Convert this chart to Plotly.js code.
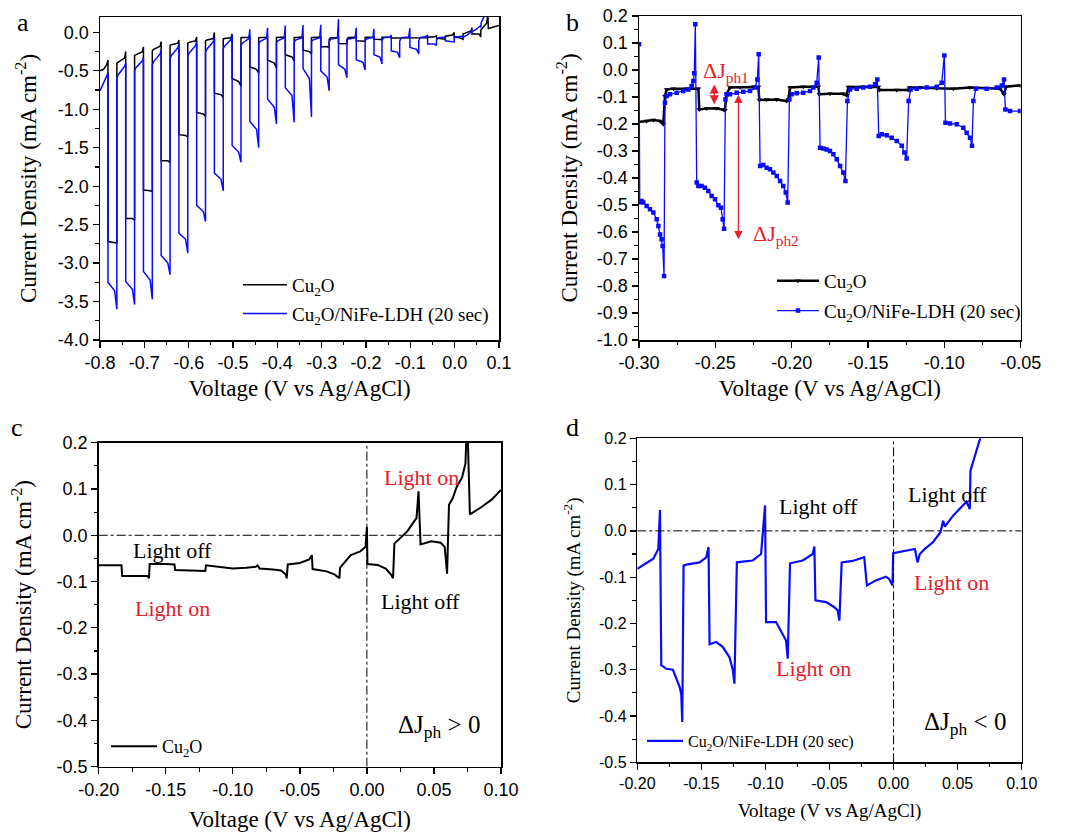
<!DOCTYPE html>
<html><head><meta charset="utf-8">
<script src="https://cdn.plot.ly/plotly-3.0.1.min.js"></script>
<style>html,body{margin:0;padding:0;background:#fff}#chart{width:1067px;height:832px}</style>
</head><body><div id="chart"></div>
<script>
// ================= DATA =================
// ---- Panel a: chopped LSV, light-on / light-off switching voltages ----
const aLightOn  = [-0.782,-0.742,-0.702,-0.662,-0.622,-0.582,-0.542,-0.502,-0.462,-0.422,-0.382,-0.342,-0.302,-0.262,-0.222,-0.182,-0.143,-0.101,-0.061];
const aLightOff = [-0.762,-0.722,-0.682,-0.642,-0.602,-0.562,-0.522,-0.482,-0.442,-0.402,-0.362,-0.323,-0.283,-0.243,-0.202,-0.164,-0.124,-0.081,-0.041];

// Cu2O (panel a): current during light-on (start, middle, end) and following dark period (start, early, late, spike)
const aCuStartV = [-0.800,-0.792,-0.785,-0.782];
const aCuStartJ = [-0.50,-0.48,-0.42,-0.36];
const aCuOnS = [-2.72,-2.42,-2.05,-1.67,-1.33,-1.04,-0.79,-0.60,-0.45,-0.36,-0.29,-0.23,-0.19,-0.146,-0.110,-0.088,-0.074,-0.069,-0.062];
const aCuOnM = [-2.73,-2.42,-2.06,-1.67,-1.34,-1.06,-0.81,-0.64,-0.48,-0.40,-0.32,-0.25,-0.185,-0.142,-0.109,-0.088,-0.074,-0.069,-0.058];
const aCuOnE = [-2.74,-2.44,-2.07,-1.69,-1.36,-1.09,-0.85,-0.70,-0.53,-0.46,-0.37,-0.28,-0.20,-0.149,-0.115,-0.094,-0.074,-0.066,-0.045];
const aCuDkS = [-0.40,-0.30,-0.24,-0.17,-0.14,-0.11,-0.085,-0.070,-0.068,-0.066,-0.066,-0.068,-0.090,-0.088,-0.065,-0.063,-0.065,-0.068];
const aCuDkM = [-0.39,-0.29,-0.22,-0.16,-0.13,-0.10,-0.080,-0.068,-0.066,-0.065,-0.065,-0.066,-0.070,-0.065,-0.062,-0.062,-0.065,-0.068];
const aCuDkP = [-0.33,-0.25,-0.18,-0.14,-0.11,-0.08,-0.070,-0.066,-0.064,-0.064,-0.064,-0.064,-0.069,-0.062,-0.062,-0.062,-0.068,-0.069];
const aCuDkE = [-0.25,-0.19,-0.12,-0.10,-0.06,0.00,-0.020,-0.040,-0.050,-0.060,-0.060,-0.062,-0.069,-0.063,-0.062,-0.063,-0.068,-0.069];
const aCuTailV = [-0.041,-0.025,-0.021,-0.021,-0.005,-0.001,-0.001,0.012,0.019,0.019,0.030,0.037,0.039,0.039,0.055,0.059,0.059,0.067,0.072,0.074,0.075,0.076,0.090,0.100];
const aCuTailJ = [-0.075,-0.085,-0.095,-0.050,-0.035,0.000,-0.065,-0.070,-0.090,-0.020,0.000,0.020,0.060,-0.020,-0.020,-0.060,0.030,0.080,0.120,0.200,0.210,0.050,0.070,0.090];

// Cu2O/NiFe-LDH (panel a)
const aLdhStartV = [-0.800,-0.792,-0.786,-0.782];
const aLdhStartJ = [-0.76,-0.66,-0.58,-0.53];
const aLdhOnS = [-3.25,-3.24,-3.11,-2.90,-2.61,-2.25,-1.83,-1.47,-1.16,-0.87,-0.72,-0.47,-0.50,-0.42,-0.355,-0.29,-0.24,-0.195,-0.150];
const aLdhOnM = [-3.36,-3.34,-3.22,-3.00,-2.69,-2.33,-1.91,-1.56,-1.26,-0.97,-0.82,-0.60,-0.58,-0.48,-0.39,-0.32,-0.26,-0.220,-0.152];
const aLdhOnE = [-3.60,-3.54,-3.47,-3.15,-2.87,-2.46,-2.06,-1.69,-1.50,-1.19,-1.17,-1.10,-0.76,-0.59,-0.49,-0.41,-0.33,-0.280,-0.170];
const aLdhDkS = [-0.60,-0.50,-0.42,-0.34,-0.30,-0.25,-0.21,-0.17,-0.15,-0.14,-0.13,-0.12,-0.12,-0.11,-0.11,-0.115,-0.115,-0.115];
const aLdhDkM = [-0.55,-0.46,-0.38,-0.30,-0.27,-0.22,-0.18,-0.14,-0.12,-0.11,-0.10,-0.10,-0.09,-0.085,-0.085,-0.070,-0.068,-0.068];
const aLdhDkP = [-0.44,-0.37,-0.28,-0.20,-0.17,-0.12,-0.09,-0.08,-0.075,-0.07,-0.07,-0.07,-0.07,-0.07,-0.065,-0.060,-0.060,-0.050];
const aLdhDkE = [-0.40,-0.33,-0.22,-0.15,-0.12,-0.065,-0.03,0.04,0.06,0.09,0.095,0.10,0.17,0.06,0.045,-0.035,0.055,-0.035];
const aLdhTailV = [-0.041,-0.037,-0.025,-0.021,-0.021,-0.005,-0.001,-0.001,0.012,0.018,0.019,0.021,0.028,0.035,0.038,0.040,0.048,0.057,0.059,0.060,0.064,0.067];
const aLdhTailJ = [-0.100,-0.070,-0.065,-0.060,-0.110,-0.115,-0.125,-0.060,-0.055,-0.050,-0.075,-0.055,-0.035,-0.005,0.025,0.010,0.040,0.080,0.065,0.130,0.180,0.210];

// ---- Panel b: zoomed chopped LSV ----
const bCuV = [-0.300,-0.295,-0.2906,-0.2862,-0.2841,-0.2830,-0.2819,-0.2775,-0.2688,-0.2611,-0.2605,-0.2557,-0.2491,-0.2448,-0.2437,-0.2426,-0.2404,-0.2338,-0.2251,-0.2218,-0.2212,-0.2164,-0.2098,-0.2033,-0.2022,-0.2011,-0.1924,-0.1825,-0.1819,-0.1749,-0.1662,-0.1640,-0.1629,-0.1487,-0.1432,-0.1426,-0.1312,-0.1236,-0.1229,-0.1159,-0.1050,-0.0941,-0.0832,-0.0635,-0.0609,-0.0596,-0.0504];
const bCuJ = [-0.193,-0.189,-0.185,-0.189,-0.201,-0.096,-0.072,-0.069,-0.069,-0.069,-0.146,-0.143,-0.142,-0.146,-0.149,-0.088,-0.065,-0.064,-0.062,-0.063,-0.111,-0.109,-0.109,-0.115,-0.109,-0.065,-0.062,-0.062,-0.090,-0.088,-0.088,-0.094,-0.063,-0.062,-0.063,-0.074,-0.074,-0.074,-0.065,-0.065,-0.068,-0.069,-0.065,-0.069,-0.090,-0.062,-0.057];
const bLdhV = [-0.3000,-0.2995,-0.2983,-0.2972,-0.2950,-0.2928,-0.2906,-0.2884,-0.2873,-0.2862,-0.2852,-0.2845,-0.2836,-0.2830,-0.2819,-0.2797,-0.2753,-0.2710,-0.2677,-0.2655,-0.2644,-0.2638,-0.2631,-0.2622,-0.2611,-0.2590,-0.2568,-0.2546,-0.2524,-0.2502,-0.2480,-0.2463,-0.2452,-0.2443,-0.2434,-0.2426,-0.2404,-0.2360,-0.2317,-0.2273,-0.2240,-0.2225,-0.2216,-0.2207,-0.2186,-0.2164,-0.2142,-0.2120,-0.2098,-0.2076,-0.2055,-0.2039,-0.2026,-0.2015,-0.2000,-0.1967,-0.1924,-0.1880,-0.1858,-0.1836,-0.1823,-0.1814,-0.1793,-0.1771,-0.1749,-0.1727,-0.1705,-0.1683,-0.1662,-0.1648,-0.1635,-0.1618,-0.1574,-0.1531,-0.1487,-0.1454,-0.1439,-0.1430,-0.1410,-0.1378,-0.1345,-0.1312,-0.1279,-0.1262,-0.1247,-0.1234,-0.1221,-0.1181,-0.1116,-0.1050,-0.1017,-0.1000,-0.0993,-0.0963,-0.0919,-0.0876,-0.0854,-0.0832,-0.0819,-0.0810,-0.0793,-0.0723,-0.0657,-0.0624,-0.0609,-0.0600,-0.0570,-0.0504];
const bLdhJ = [0.095,-0.490,-0.485,-0.491,-0.504,-0.516,-0.528,-0.553,-0.578,-0.609,-0.627,-0.652,-0.763,-0.121,-0.096,-0.090,-0.084,-0.078,-0.072,-0.059,-0.041,-0.012,0.169,-0.417,-0.430,-0.430,-0.436,-0.448,-0.467,-0.479,-0.501,-0.510,-0.553,-0.588,-0.109,-0.090,-0.090,-0.084,-0.081,-0.078,-0.065,-0.035,0.058,-0.356,-0.352,-0.362,-0.368,-0.380,-0.393,-0.411,-0.430,-0.454,-0.491,-0.109,-0.090,-0.086,-0.084,-0.078,-0.065,-0.047,0.046,-0.288,-0.291,-0.294,-0.300,-0.312,-0.331,-0.356,-0.380,-0.411,-0.115,-0.072,-0.069,-0.065,-0.062,-0.053,-0.035,-0.244,-0.238,-0.242,-0.251,-0.263,-0.281,-0.306,-0.328,-0.115,-0.072,-0.069,-0.065,-0.062,-0.047,0.054,-0.195,-0.198,-0.201,-0.214,-0.232,-0.251,-0.281,-0.115,-0.069,-0.069,-0.065,-0.057,-0.035,-0.146,-0.152,-0.152];

// ---- Panel c: Cu2O ----
const cV = [-0.200,-0.183,-0.1825,-0.170,-0.1635,-0.1625,-0.162,-0.150,-0.1435,-0.143,-0.130,-0.1205,-0.120,-0.110,-0.100,-0.090,-0.083,-0.0815,-0.080,-0.070,-0.064,-0.0605,-0.0598,-0.059,-0.050,-0.043,-0.041,-0.0405,-0.030,-0.024,-0.0205,-0.020,-0.012,-0.005,-0.001,0.000,0.0004,0.008,0.014,0.018,0.0195,0.0205,0.026,0.030,0.034,0.037,0.0385,0.040,0.048,0.055,0.058,0.0598,0.0612,0.064,0.067,0.071,0.0735,0.0742,0.0752,0.0768,0.085,0.093,0.100];
const cJ = [-0.065,-0.065,-0.088,-0.087,-0.088,-0.093,-0.062,-0.062,-0.063,-0.075,-0.077,-0.077,-0.065,-0.068,-0.072,-0.070,-0.068,-0.065,-0.072,-0.074,-0.076,-0.085,-0.093,-0.063,-0.060,-0.052,-0.043,-0.073,-0.078,-0.085,-0.093,-0.070,-0.043,-0.035,-0.025,0.018,-0.062,-0.064,-0.072,-0.085,-0.093,-0.018,-0.004,0.008,0.025,0.037,0.095,-0.020,-0.013,-0.016,-0.025,-0.083,0.066,0.080,0.105,0.125,0.155,0.215,0.215,0.045,0.060,0.077,0.098];

// ---- Panel d: Cu2O/NiFe-LDH ----
const dV = [-0.2000,-0.1875,-0.1836,-0.1823,-0.1813,-0.1774,-0.1722,-0.1696,-0.1670,-0.1657,-0.1649,-0.1639,-0.1618,-0.1514,-0.1462,-0.1444,-0.1436,-0.1384,-0.1332,-0.1281,-0.1255,-0.1242,-0.1223,-0.1099,-0.1034,-0.1003,-0.0995,-0.0917,-0.0865,-0.0839,-0.0826,-0.0808,-0.0709,-0.0631,-0.0618,-0.0610,-0.0527,-0.0462,-0.0436,-0.0423,-0.0405,-0.0320,-0.0229,-0.0208,-0.0138,-0.0060,-0.0034,-0.0008,-0.0003,0.0075,0.0166,0.0187,0.0205,0.0244,0.0309,0.0366,0.0387,0.0400,0.0465,0.0569,0.0595,0.0600,0.0634,0.0675,0.0690];
const dJ = [-0.082,-0.060,-0.039,0.045,-0.290,-0.298,-0.300,-0.320,-0.337,-0.353,-0.413,-0.075,-0.073,-0.068,-0.057,-0.035,-0.245,-0.240,-0.251,-0.273,-0.300,-0.330,-0.068,-0.064,-0.050,0.055,-0.197,-0.197,-0.222,-0.237,-0.276,-0.070,-0.064,-0.050,-0.034,-0.150,-0.154,-0.165,-0.172,-0.194,-0.068,-0.065,-0.057,-0.118,-0.107,-0.099,-0.104,-0.118,-0.048,-0.044,-0.039,-0.068,-0.050,-0.039,-0.024,-0.003,0.022,0.009,0.033,0.063,0.047,0.130,0.159,0.199,0.215];

// ---- Tick labels ----
const aXTicks = ['-0.8','-0.7','-0.6','-0.5','-0.4','-0.3','-0.2','-0.1','0.0','0.1'];
const aYTicks = ['-4.0','-3.5','-3.0','-2.5','-2.0','-1.5','-1.0','-0.5','0.0'];
const bXTicks = ['-0.30','-0.25','-0.20','-0.15','-0.10','-0.05'];
const bYTicks = ['-1.0','-0.9','-0.8','-0.7','-0.6','-0.5','-0.4','-0.3','-0.2','-0.1','0.0','0.1','0.2'];
const cdXTicks = ['-0.20','-0.15','-0.10','-0.05','0.00','0.05','0.10'];
const cdYTicks = ['-0.5','-0.4','-0.3','-0.2','-0.1','0.0','0.1','0.2'];

// ================= BUILD =================
function buildChop(x0, y0, on, off, onS, onM, onE, dS, dM, dP, dE, tx, ty) {
  const xs = x0.slice(), ys = y0.slice();
  for (let i = 0; i < on.length; i++) {
    const w = off[i] - on[i];
    xs.push(on[i]); ys.push(onS[i]);
    xs.push(on[i] + 0.75 * w); ys.push(onM[i]);
    xs.push(off[i]); ys.push(onE[i]);
    if (i < on.length - 1) {
      const d = on[i + 1] - off[i];
      xs.push(off[i]); ys.push(dS[i]);
      xs.push(off[i] + 0.15 * d); ys.push(dM[i]);
      xs.push(on[i + 1] - 0.12 * d); ys.push(dP[i]);
      xs.push(on[i + 1]); ys.push(dE[i]);
    }
  }
  return {x: xs.concat(tx), y: ys.concat(ty)};
}
const aCu = buildChop(aCuStartV, aCuStartJ, aLightOn, aLightOff, aCuOnS, aCuOnM, aCuOnE, aCuDkS, aCuDkM, aCuDkP, aCuDkE, aCuTailV, aCuTailJ);
const aLdh = buildChop(aLdhStartV, aLdhStartJ, aLightOn, aLightOff, aLdhOnS, aLdhOnM, aLdhOnE, aLdhDkS, aLdhDkM, aLdhDkP, aLdhDkE, aLdhTailV, aLdhTailJ);

const BLUE = '#0a0aff', BLACK = '#000000', RED = '#e8202a';
const SERIF = 'Liberation Serif, Times New Roman, serif';
const SANS = 'Liberation Sans, Arial, sans-serif';
const W = 1067, H = 832;
const CU = 'Cu<sub>2</sub>O', LDH = 'Cu<sub>2</sub>O/NiFe-LDH (20 sec)';

const traces = [
  {x: aCu.x, y: aCu.y, xaxis: 'x', yaxis: 'y', mode: 'lines', name: CU, line: {color: BLACK, width: 1.5}, legend: 'legend', legendgroup: 'a1'},
  {x: aLdh.x, y: aLdh.y, xaxis: 'x', yaxis: 'y', mode: 'lines', name: LDH, line: {color: BLUE, width: 1.5}, legend: 'legend', legendgroup: 'a2'},
  {x: bCuV, y: bCuJ, xaxis: 'x2', yaxis: 'y2', mode: 'lines+markers', name: CU, line: {color: BLACK, width: 2.5}, marker: {symbol: 'triangle-down', size: 5, color: BLACK}, legend: 'legend2', legendgroup: 'b1'},
  {x: bLdhV, y: bLdhJ, xaxis: 'x2', yaxis: 'y2', mode: 'lines+markers', name: LDH, line: {color: BLUE, width: 1.3}, marker: {symbol: 'square', size: 4.5, color: BLUE}, legend: 'legend2', legendgroup: 'b2'},
  {x: cV, y: cJ, xaxis: 'x3', yaxis: 'y3', mode: 'lines', name: CU, line: {color: BLACK, width: 2}, legend: 'legend3'},
  {x: dV, y: dJ, xaxis: 'x4', yaxis: 'y4', mode: 'lines', name: LDH, line: {color: BLUE, width: 2.2}, legend: 'legend4'}
];

function axis(dom, range, labels, minorD, tfs, title, titfs, standoff, anchor) {
  return {
    domain: dom, range: range, anchor: anchor,
    tickmode: 'array', tickvals: labels.map(Number), ticktext: labels,
    ticks: 'outside', ticklen: 6, tickwidth: 1.3, tickcolor: '#000',
    minor: {tickmode: 'linear', tick0: 0, dtick: minorD, ticks: 'outside', ticklen: 3.5, tickwidth: 1.2, tickcolor: '#000', showgrid: false},
    showline: true, mirror: true, linecolor: '#000', linewidth: 1.5,
    showgrid: false, zeroline: false, fixedrange: true,
    tickfont: {family: SANS, size: tfs, color: '#000'},
    title: {text: title, font: {family: SERIF, size: titfs, color: '#000'}, standoff: standoff}
  };
}
const XT = 'Voltage (V vs Ag/AgCl)';
const YT = 'Current Density (mA cm<sup>-2</sup>)';
const px = v => v / W, py = v => 1 - v / H;
const legFont = s => ({family: SERIF, size: s, color: '#000'});

const layout = {
  width: W, height: H, margin: {l: 0, r: 0, t: 0, b: 0},
  paper_bgcolor: '#fff', plot_bgcolor: '#fff', showlegend: true,
  xaxis:  axis([px(100), px(499)], [-0.8, 0.1], aXTicks, 0.05, 18, XT, 23, 8, 'y'),
  yaxis:  axis([py(340), py(17)], [-4, 0.2], aYTicks, 0.25, 18, YT, 23, 15, 'x'),
  xaxis2: axis([px(639), px(1020.7)], [-0.3, -0.05], bXTicks, 0.025, 18, XT, 23, 8, 'y2'),
  yaxis2: axis([py(340), py(16)], [-1, 0.2], bYTicks, 0.05, 18, YT, 23, 13, 'x2'),
  xaxis3: axis([px(98.7), px(501)], [-0.2, 0.1], cdXTicks, 0.025, 18, XT, 23, 12, 'y3'),
  yaxis3: axis([py(766.7), py(442.7)], [-0.5, 0.2], cdYTicks, 0.05, 18, YT, 23, 18, 'x3'),
  xaxis4: axis([px(637.3), px(1021.7)], [-0.2, 0.1], cdXTicks, 0.025, 16, XT, 19, 12, 'y4'),
  yaxis4: axis([py(762.3), py(438.3)], [-0.5, 0.2], cdYTicks, 0.05, 16, YT, 19, 13, 'x4'),
  legend:  {x: px(238), y: py(266), xanchor: 'left', yanchor: 'top', itemwidth: 44, bgcolor: 'rgba(0,0,0,0)', traceorder: 'grouped', tracegroupgap: 1, font: legFont(19)},
  legend2: {x: px(772), y: py(262), xanchor: 'left', yanchor: 'top', itemwidth: 42, bgcolor: 'rgba(0,0,0,0)', traceorder: 'grouped', tracegroupgap: 2, font: legFont(19)},
  legend3: {x: px(106), y: py(728), xanchor: 'left', yanchor: 'top', itemwidth: 46, bgcolor: 'rgba(0,0,0,0)', font: legFont(18)},
  legend4: {x: px(642), y: py(724), xanchor: 'left', yanchor: 'top', itemwidth: 36, bgcolor: 'rgba(0,0,0,0)', font: legFont(16)},
  shapes: [
    {type: 'line', xref: 'x3', yref: 'y3', x0: -0.2, x1: 0.1, y0: 0, y1: 0, line: {color: '#000', width: 1, dash: 'dashdot'}},
    {type: 'line', xref: 'x3', yref: 'y3', x0: 0, x1: 0, y0: -0.5, y1: 0.2, line: {color: '#000', width: 1, dash: 'dashdot'}},
    {type: 'line', xref: 'x4', yref: 'y4', x0: -0.2, x1: 0.1, y0: 0, y1: 0, line: {color: '#000', width: 1, dash: 'dashdot'}},
    {type: 'line', xref: 'x4', yref: 'y4', x0: 0, x1: 0, y0: -0.5, y1: 0.2, line: {color: '#000', width: 1, dash: 'dashdot'}}
  ],
  annotations: [
    {text: 'a', xref: 'paper', yref: 'paper', x: px(22.5), y: py(22), xanchor: 'center', yanchor: 'middle', showarrow: false, font: {family: SERIF, size: 26, color: '#000'}},
    {text: 'b', xref: 'paper', yref: 'paper', x: px(572), y: py(22), xanchor: 'center', yanchor: 'middle', showarrow: false, font: {family: SERIF, size: 26, color: '#000'}},
    {text: 'c', xref: 'paper', yref: 'paper', x: px(17), y: py(428), xanchor: 'center', yanchor: 'middle', showarrow: false, font: {family: SERIF, size: 26, color: '#000'}},
    {text: 'd', xref: 'paper', yref: 'paper', x: px(572), y: py(428), xanchor: 'center', yanchor: 'middle', showarrow: false, font: {family: SERIF, size: 26, color: '#000'}},
    // panel b arrows and labels
    {xref: 'x2', yref: 'y2', axref: 'x2', ayref: 'y2', x: -0.2507, y: -0.127, ax: -0.2507, ay: -0.048, text: '', showarrow: true, arrowside: 'end+start', arrowhead: 2, arrowsize: 1.4, arrowwidth: 1.3, arrowcolor: RED},
    {xref: 'x2', yref: 'y2', axref: 'x2', ayref: 'y2', x: -0.2349, y: -0.627, ax: -0.2349, ay: -0.086, text: '', showarrow: true, arrowside: 'end+start', arrowhead: 2, arrowsize: 1.4, arrowwidth: 1.2, arrowcolor: RED},
    {xref: 'x2', yref: 'y2', x: -0.2431, y: -0.008, text: '&#916;J<sub>ph1</sub>', showarrow: false, font: {family: SERIF, size: 22, color: RED}},
    {xref: 'x2', yref: 'y2', x: -0.2104, y: -0.612, text: '&#916;J<sub>ph2</sub>', showarrow: false, font: {family: SERIF, size: 22, color: RED}},
    // panel c labels
    {xref: 'x3', yref: 'y3', x: -0.1446, y: -0.032, text: 'Light off', showarrow: false, font: {family: SERIF, size: 22, color: '#000'}},
    {xref: 'x3', yref: 'y3', x: -0.145, y: -0.158, text: 'Light on', showarrow: false, font: {family: SERIF, size: 22, color: RED}},
    {xref: 'x3', yref: 'y3', x: 0.0409, y: 0.125, text: 'Light on', showarrow: false, font: {family: SERIF, size: 22, color: RED}},
    {xref: 'x3', yref: 'y3', x: 0.040, y: -0.143, text: 'Light off', showarrow: false, font: {family: SERIF, size: 22, color: '#000'}},
    {xref: 'x3', yref: 'y3', x: 0.0538, y: -0.413, text: '&#916;J<sub>ph</sub> &gt; 0', showarrow: false, font: {family: SERIF, size: 25, color: '#000'}},
    // panel d labels
    {xref: 'x4', yref: 'y4', x: -0.0584, y: 0.0525, text: 'Light off', showarrow: false, font: {family: SERIF, size: 22, color: '#000'}},
    {xref: 'x4', yref: 'y4', x: 0.0423, y: 0.078, text: 'Light off', showarrow: false, font: {family: SERIF, size: 22, color: '#000'}},
    {xref: 'x4', yref: 'y4', x: 0.0455, y: -0.112, text: 'Light on', showarrow: false, font: {family: SERIF, size: 22, color: RED}},
    {xref: 'x4', yref: 'y4', x: -0.0623, y: -0.298, text: 'Light on', showarrow: false, font: {family: SERIF, size: 22, color: RED}},
    {xref: 'x4', yref: 'y4', x: 0.0561, y: -0.4165, text: '&#916;J<sub>ph</sub> &lt; 0', showarrow: false, font: {family: SERIF, size: 25, color: '#000'}}
  ]
};

Plotly.newPlot('chart', traces, layout, {staticPlot: true, displayModeBar: false});
</script>
</body></html>
